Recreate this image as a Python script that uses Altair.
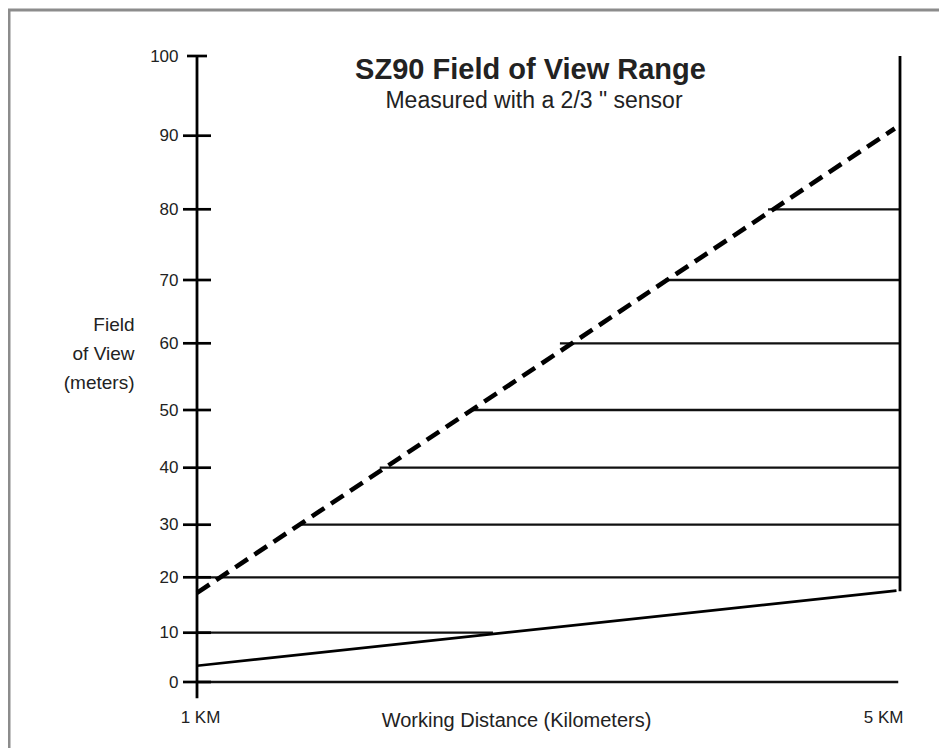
import altair as alt
import pandas as pd

# ---- data ----
y_values = [0, 10, 20, 30, 40, 50, 60, 70, 80, 90, 100]
# the original drawing spaces its y ticks unevenly (pixel offsets from top of plot)
y_positions = [626, 576.7, 521.3, 468.7, 411.7, 354, 287.3, 224, 153.3, 79.7, 0]

x_values = [1, 5]
x_labels = ["1 KM", "5 KM"]

# horizontal field-of-view level lines
level_values = [0, 10, 20, 30, 40, 50, 60, 70, 80]
level_start = [1, 1, 1, 1.58, 2.04, 2.57, 3.065, 3.663, 4.249]
level_end = [4.99, 2.684, 5, 5, 5, 5, 5, 5, 5]

# upper (dashed) boundary
upper_x = [1, 4.97]
upper_y = [17.2, 90.9]
# lower (solid) boundary
lower_x = [1, 4.98]
lower_y = [3.3, 17.6]

# vertical frame lines (left axis line and right edge)
vline_x = [1, 5]
vline_low = [-3.3, 17.5]
vline_high = [100, 100]

title_text = "SZ90 Field of View Range"
subtitle_text = 'Measured with a 2/3 " sensor'
y_title = ["Field", "of View", "(meters)"]
x_title = "Working Distance (Kilometers)"

FONT = "Liberation Sans"

# ---- scales & axes ----
xscale = alt.Scale(domain=[1, 5], nice=False, zero=False)
yscale = alt.Scale(domain=y_values, range=y_positions, nice=False, zero=False)

label_expr = " : ".join(
    f"datum.value == {v} ? '{l}'" for v, l in zip(x_values[:-1], x_labels[:-1])
) + f" : '{x_labels[-1]}'"

x_axis = alt.Axis(
    values=x_values, labelExpr=label_expr, ticks=False, tickSize=0, domain=False,
    grid=False, labelFlush=False, labelFont=FONT, labelFontSize=17, labelColor="#222",
    labelBaseline="alphabetic", labelPadding=40, labelOffset=3,
    labelAlign={"condition": {"test": "datum.value == 5", "value": "right"}, "value": "center"},
    title=x_title, titleFont=FONT, titleFontSize=20, titleFontWeight="normal",
    titleColor="#222", titleX=319, titleY=44, titleBaseline="alphabetic",
    titleAlign="center",
)
y_axis = alt.Axis(
    values=y_values, ticks=False, tickSize=0, domain=False, grid=False,
    labelFont=FONT, labelFontSize=17, labelColor="#222", labelPadding=19,
    labelFlush=False, labelOverlap=False,
    title=y_title, titleFont=FONT, titleFontSize=19, titleFontWeight="normal",
    titleColor="#222", titleAngle=0, titleAlign="right", titleBaseline="alphabetic",
    titleX=-63, titleY=274, titleLineHeight=29,
)

# ---- layers ----
# page frame: only its top and left edges fall inside the picture
frame = alt.Chart(pd.DataFrame({"a": [0]})).mark_rect(
    fill="transparent", stroke="#8c8c8c", strokeWidth=3
).encode(
    x=alt.value(-188), x2=alt.value(780), y=alt.value(-46), y2=alt.value(720)
)

levels_df = pd.DataFrame({"y": level_values, "x0": level_start, "x1": level_end})
levels = alt.Chart(levels_df).mark_rule(color="#111", strokeWidth=2.3).encode(
    x=alt.X("x0:Q", scale=xscale, axis=x_axis),
    x2="x1:Q",
    y=alt.Y("y:Q", scale=yscale, axis=y_axis),
)

vlines_df = pd.DataFrame({"x": vline_x, "y0": vline_low, "y1": vline_high})
vlines = alt.Chart(vlines_df).mark_rule(color="black", strokeWidth=2.8).encode(
    x=alt.X("x:Q", scale=xscale, axis=x_axis),
    y=alt.Y("y0:Q", scale=yscale, axis=y_axis),
    y2="y1:Q",
)

ticks_df = pd.DataFrame({"x": [1] * len(y_values), "y": y_values})
ticks = alt.Chart(ticks_df).mark_tick(
    orient="horizontal", thickness=2.7, color="black", opacity=1
).encode(
    x=alt.X("x:Q", scale=xscale, axis=x_axis),
    y=alt.Y("y:Q", scale=yscale, axis=y_axis),
    size=alt.condition(alt.datum.y == 100, alt.value(20), alt.value(28)),
)

upper = alt.Chart(pd.DataFrame({"x": upper_x, "y": upper_y})).mark_line(
    color="black", strokeWidth=4.6, strokeDash=[15, 8]
).encode(
    x=alt.X("x:Q", scale=xscale, axis=x_axis),
    y=alt.Y("y:Q", scale=yscale, axis=y_axis),
)

lower = alt.Chart(pd.DataFrame({"x": lower_x, "y": lower_y})).mark_line(
    color="black", strokeWidth=2.7
).encode(
    x=alt.X("x:Q", scale=xscale, axis=x_axis),
    y=alt.Y("y:Q", scale=yscale, axis=y_axis),
)

title = alt.Chart(pd.DataFrame({"t": [title_text]})).mark_text(
    font=FONT, fontSize=29, fontWeight="bold", color="#222", align="center",
    baseline="alphabetic"
).encode(text="t:N", x=alt.value(333.5), y=alt.value(23))

subtitle = alt.Chart(pd.DataFrame({"t": [subtitle_text]})).mark_text(
    font=FONT, fontSize=23, color="#222", align="center", baseline="alphabetic"
).encode(text="t:N", x=alt.value(337), y=alt.value(52))

chart = alt.layer(frame, levels, vlines, ticks, upper, lower, title, subtitle).properties(
    width=703, height=626,
    padding={"left": 189, "top": 48, "right": 39, "bottom": 66},
    autosize=alt.AutoSizeParams(type="none"),
    background="white",
).configure_view(strokeWidth=0)

chart.save("out.html", embed_options={"renderer": "svg", "actions": False})
